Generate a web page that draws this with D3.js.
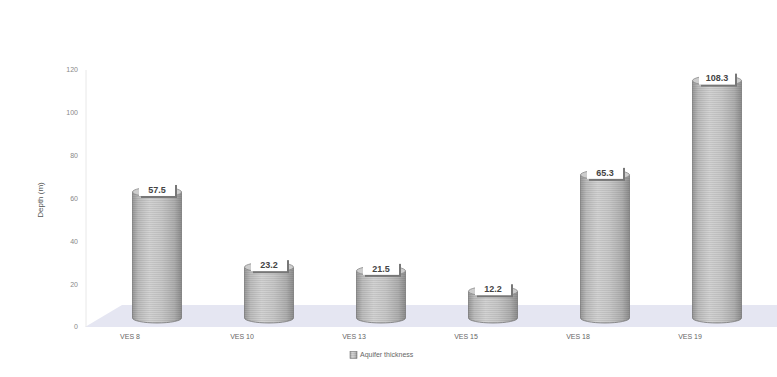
<!DOCTYPE html>
<html><head><meta charset="utf-8">
<script src="https://cdn.jsdelivr.net/npm/d3@7"></script>
<style>body{margin:0;background:#fff}svg{display:block}</style>
</head><body>
<script>
const categories = ["VES 8","VES 10","VES 13","VES 15","VES 18","VES 19"];
const values = [57.5, 23.2, 21.5, 12.2, 65.3, 108.3];
const yTicks = [0,20,40,60,80,100,120];
const seriesName = "Aquifer thickness";

const W = 777, H = 377;
const svg = d3.select("body").append("svg").attr("width", W).attr("height", H);
const defs = svg.append("defs");

const grad = defs.append("linearGradient").attr("id","cyl").attr("x1","0").attr("x2","1").attr("y1","0").attr("y2","0");
[[0,"#9a9a9a"],[0.12,"#bdbdbd"],[0.35,"#d3d3d3"],[0.6,"#c8c8c8"],[0.85,"#b0b0b0"],[1,"#8e8e8e"]]
  .forEach(([o,c]) => grad.append("stop").attr("offset",o).attr("stop-color",c));
const pat = defs.append("pattern").attr("id","stripes").attr("width",4).attr("height",2).attr("patternUnits","userSpaceOnUse");
pat.append("rect").attr("width",4).attr("height",1).attr("fill","#000").attr("opacity",0.07);

// back axis scale (tick labels) and front bar scale
const yBack = d3.scaleLinear().domain([0,120]).range([327,70]);
const yBar = d3.scaleLinear().domain([0,120]).range([318,55]);
const x = d3.scalePoint().domain(categories).range([101,773]).padding(0.5);
const bw = 49, ry = 5;

// floor
svg.append("polygon")
  .attr("points", [[85,yBack(0)],[122,305],[W,305],[W,yBack(0)]].map(p=>p.join(",")).join(" "))
  .attr("fill","#e5e6f2");

// axis line
svg.append("line").attr("x1",86).attr("x2",86).attr("y1",yBack(120)).attr("y2",yBack(0))
  .attr("stroke","#e8e8e8").attr("stroke-width",1);

// y tick labels
svg.append("g").selectAll("text").data(yTicks).join("text")
  .attr("x",78).attr("y",d=>yBack(d)).attr("dy","0.35em").attr("text-anchor","end")
  .attr("font-family","Liberation Sans, Arial, sans-serif").attr("font-size",7).attr("fill","#888")
  .text(d=>d);

// y title
svg.append("text").attr("transform","translate(43,200) rotate(-90)").attr("text-anchor","middle")
  .attr("font-family","Liberation Sans, Arial, sans-serif").attr("font-size",8).attr("fill","#555")
  .text("Depth (m)");

// bars (cylinders)
const bars = svg.append("g").selectAll("g").data(categories.map((c,i)=>({c, v: values[i]}))).join("g");
bars.each(function(d){
  const g = d3.select(this);
  const cx = x(d.c), top = yBar(d.v), bot = yBar(0);
  const l = cx - bw/2, r = cx + bw/2;
  const path = `M${l},${top} L${l},${bot} A${bw/2},${ry} 0 0 0 ${r},${bot} L${r},${top} Z`;
  g.append("path").attr("d",path).attr("fill","url(#cyl)").attr("stroke","#7a7a7a").attr("stroke-width",0.8);
  g.append("path").attr("d",path).attr("fill","url(#stripes)");
  g.append("ellipse").attr("cx",cx).attr("cy",top).attr("rx",bw/2).attr("ry",ry)
    .attr("fill","#cdcdcd").attr("stroke","#8a8a8a").attr("stroke-width",0.8);
  // value label box
  const bwid = 36, bh = 13, bx = cx - bwid/2, by = top - 9;
  g.append("rect").attr("x",bx+2).attr("y",by+2).attr("width",bwid).attr("height",bh).attr("fill","#777");
  g.append("rect").attr("x",bx).attr("y",by).attr("width",bwid).attr("height",bh).attr("fill","#fff");
  g.append("text").attr("x",cx).attr("y",by+bh/2).attr("dy","0.35em").attr("text-anchor","middle")
    .attr("font-family","Liberation Sans, Arial, sans-serif").attr("font-size",9).attr("font-weight","bold")
    .attr("fill","#444").text(d.v);
});

// category labels
svg.append("g").selectAll("text").data(categories).join("text")
  .attr("x",d=>x(d)-27).attr("y",337).attr("dy","0.35em").attr("text-anchor","middle")
  .attr("font-family","Liberation Sans, Arial, sans-serif").attr("font-size",7).attr("fill","#666")
  .text(d=>d);

// legend
const lg = svg.append("g").attr("transform","translate(350,355)");
lg.append("rect").attr("x",0).attr("y",-3.5).attr("width",7).attr("height",7).attr("fill","url(#cyl)").attr("stroke","#777").attr("stroke-width",0.6);
lg.append("rect").attr("x",0).attr("y",-3.5).attr("width",7).attr("height",7).attr("fill","url(#stripes)");
lg.append("text").attr("x",10).attr("y",0).attr("dy","0.35em")
  .attr("font-family","Liberation Sans, Arial, sans-serif").attr("font-size",7).attr("fill","#666")
  .text(seriesName);
</script>
</body></html>
